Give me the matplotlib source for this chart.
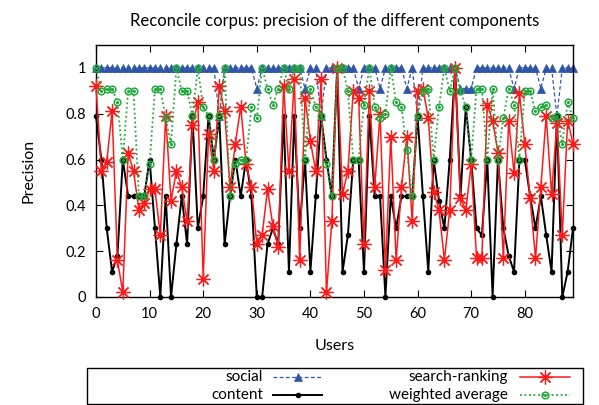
import matplotlib
matplotlib.use("Agg")
import matplotlib.pyplot as plt
from matplotlib.lines import Line2D
from matplotlib.patches import Rectangle
import numpy as np

plt.rcParams['font.family'] = ['Lato', 'DejaVu Sans']

users = list(range(90))

social = [1.0] * 90
social_dips = {23: 0.79, 30: 0.91, 39: 0.91, 42: 0.79, 49: 0.91, 53: 0.91,
               58: 0.91, 60: 0.79, 68: 0.91, 69: 0.91, 70: 0.91, 78: 0.91,
               83: 0.91, 86: 0.79}
for k, v in social_dips.items():
    social[k] = v

content = [0.79, 0.6, 0.30, 0.11, 0.18, 0.6, 0.44, 0.44, 0.44, 0.44,
           0.6, 0.30, 0.0, 0.44, 0.0, 0.23, 0.44, 0.23, 0.79, 0.30,
           0.44, 0.79, 0.6, 0.79, 0.23, 0.44, 0.6, 0.44, 0.6, 0.44,
           0.0, 0.0, 0.23, 0.30, 0.23, 0.79, 0.11, 0.79, 0.30, 0.6,
           0.11, 0.44, 0.79, 0.6, 0.44, 1.0, 0.11, 0.27, 0.6, 0.6,
           0.11, 0.79, 0.44, 0.44, 0.0, 0.44, 0.30, 0.44, 0.44, 0.44,
           0.79, 0.44, 0.11, 0.6, 0.42, 0.30, 0.6, 1.0, 0.44, 0.83,
           0.6, 0.30, 0.27, 0.6, 0.0, 0.6, 0.30, 0.18, 0.11, 0.6,
           0.6, 0.44, 0.30, 0.44, 0.27, 0.11, 0.79, 0.0, 0.11, 0.30]

search_ranking = [0.92, 0.55, 0.59, 0.81, 0.16, 0.02, 0.63, 0.55, 0.38, 0.41,
                  0.47, 0.47, 0.27, 0.79, 0.42, 0.55, 0.48, 0.33, 0.75, 0.85,
                  0.08, 0.71, 0.55, 0.92, 0.81, 0.48, 0.67, 0.83, 0.58, 0.48,
                  0.23, 0.27, 0.47, 0.31, 0.22, 0.92, 0.55, 0.95, 0.16, 0.87,
                  0.68, 0.55, 0.95, 0.02, 0.33, 1.0, 0.45, 0.55, 0.90, 0.87,
                  0.23, 0.90, 0.48, 0.80, 0.12, 0.70, 0.16, 0.48, 0.70, 0.33,
                  0.90, 0.91, 0.78, 0.46, 0.38, 0.16, 0.38, 1.0, 0.43, 0.38,
                  0.58, 0.17, 0.17, 0.84, 0.77, 0.63, 0.17, 0.77, 0.54, 0.89,
                  0.67, 0.43, 0.17, 0.48, 0.79, 0.45, 0.76, 0.27, 0.77, 0.67]

weighted_average = [1.0, 0.90, 0.91, 0.91, 0.85, 0.6, 0.90, 0.90, 0.44, 0.44,
                    0.58, 0.91, 0.91, 0.78, 0.67, 1.0, 0.90, 0.90, 0.79, 1.0,
                    0.83, 0.79, 0.6, 0.79, 1.0, 0.44, 0.58, 0.6, 0.6, 0.83,
                    0.78, 1.0, 0.91, 0.84, 0.91, 1.0, 0.91, 1.0, 1.0, 0.6,
                    0.91, 0.83, 0.79, 0.58, 0.44, 1.0, 1.0, 0.90, 0.6, 0.6,
                    0.84, 1.0, 0.83, 0.78, 0.80, 1.0, 0.85, 0.83, 0.64, 0.44,
                    0.79, 0.90, 0.91, 0.6, 0.83, 1.0, 0.90, 1.0, 0.90, 0.83,
                    0.6, 0.91, 0.91, 0.6, 0.91, 0.6, 0.78, 0.91, 0.84, 0.6,
                    0.90, 0.90, 0.81, 0.83, 0.84, 0.78, 0.79, 0.67, 0.85, 0.78]

x_ticks = [0, 10, 20, 30, 40, 50, 60, 70, 80]
y_ticks = [0, 0.2, 0.4, 0.6, 0.8, 1]
y_ticklabels = ['0', '0.2', '0.4', '0.6', '0.8', '1']

BLUE = '#2f55a8'
RED = '#ff1a1a'
GREEN = '#1faa3c'

W, H = 599, 405
fig = plt.figure(figsize=(W / 100, H / 100), dpi=100)
ax = fig.add_axes([96 / W, 1 - 297 / H, 477 / W, 252 / H])

styles = {
    'social': dict(color=BLUE, ls=(0, (3, 2)), lw=0.9, marker='^', ms=6,
                   mfc=BLUE, mec=BLUE, mew=0.5),
    'content': dict(color='black', ls='-', lw=1.4, marker='o', ms=3,
                    mfc='black', mec='black'),
    'search-ranking': dict(color=RED, ls='-', lw=1.1, marker=(8, 2, 0), ms=10,
                           mec=RED, mew=0.9),
    'weighted average': dict(color=GREEN, ls=(0, (1, 1.5)), lw=1.3, marker='o',
                             ms=4.8, mfc='none', mec=GREEN, mew=1.1),
}

ax.plot(users, social, zorder=2, clip_on=False, **styles['social'])
ax.plot(users, content, zorder=3, clip_on=False, **styles['content'])
ax.plot(users, search_ranking, zorder=4, clip_on=False, **styles['search-ranking'])
ax.plot(users, weighted_average, zorder=5, clip_on=False, **styles['weighted average'])
ax.plot(users, weighted_average, ls='none', marker='o', ms=1.2, color=GREEN,
        zorder=5, clip_on=False)

ax.set_xlim(0, 89)
ax.set_ylim(0, 1.1)
ax.set_xticks(x_ticks)
ax.set_yticks(y_ticks)
ax.set_yticklabels(y_ticklabels)
ax.tick_params(direction='in', length=5, width=0.8, top=True, right=True,
               labelsize=10.5, pad=7)
for s in ax.spines.values():
    s.set_linewidth(1.0)

ax.set_title('Reconcile corpus: precision of the different components',
             fontsize=12, pad=14)
ax.set_xlabel('Users', fontsize=11.5, labelpad=13)
ax.set_ylabel('Precision', fontsize=11.5, labelpad=22)

# legend box (figure pixel coordinates, origin top-left)
def fx(px):
    return px / W

def fy(py):
    return 1 - py / H

fig.patches.append(Rectangle((fx(87), fy(404)), fx(583) - fx(87), fy(368) - fy(404),
                             transform=fig.transFigure, fill=False,
                             edgecolor='black', lw=1.0))
entries = [('social', 263, 273, 322, 377),
           ('content', 263, 273, 322, 395),
           ('search-ranking', 508, 520, 570, 377),
           ('weighted average', 508, 520, 570, 395)]
for name, tx, x0, x1, y in entries:
    fig.text(fx(tx), fy(y), name, ha='right', va='center', fontsize=11)
    st = dict(styles[name])
    marker = st.pop('marker')
    ms = st.pop('ms')
    mfc = st.pop('mfc', None)
    mec = st.pop('mec', None)
    mew = st.pop('mew', None)
    fig.lines.append(Line2D([fx(x0), fx(x1)], [fy(y), fy(y)],
                            transform=fig.transFigure, **st))
    fig.lines.append(Line2D([fx((x0 + x1) / 2)], [fy(y)], transform=fig.transFigure,
                            ls='none', marker=marker, ms=ms, mfc=mfc, mec=mec,
                            mew=mew if mew is not None else 1.0))
    if name == 'weighted average':
        fig.lines.append(Line2D([fx((x0 + x1) / 2)], [fy(y)], transform=fig.transFigure,
                                ls='none', marker='o', ms=1.2, color=GREEN))

fig.savefig('out.png', dpi=100)
